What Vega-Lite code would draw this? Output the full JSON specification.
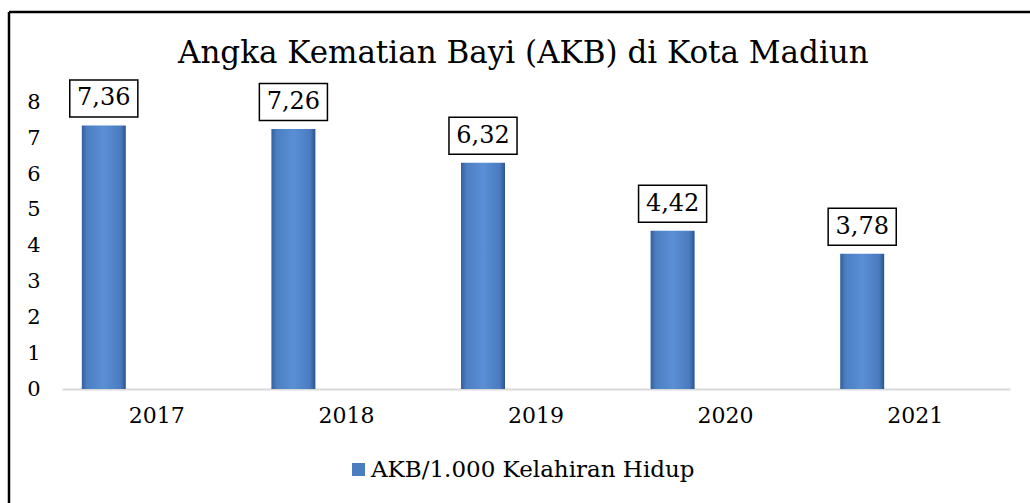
{
  "$schema": "https://vega.github.io/schema/vega-lite/v6.json",
  "width": 1021,
  "height": 491,
  "autosize": {"type": "none"},
  "padding": {"left": 9, "top": 12, "right": 0, "bottom": 0},
  "background": "white",
  "view": {"stroke": "black", "strokeWidth": 2.5, "strokeDash": [1021, 1512, 491, 0]},
  "title": {
    "text": "Angka Kematian Bayi (AKB) di Kota Madiun",
    "font": "DejaVu Serif",
    "fontSize": 31,
    "fontWeight": "normal",
    "color": "black",
    "anchor": "start",
    "frame": "group",
    "dx": 169,
    "offset": -58
  },
  "config": {
    "view": {"stroke": "black", "strokeWidth": 2.5, "strokeDash": [1021, 1512, 491, 0]},
    "locale": {"number": {"decimal": ",", "thousands": ".", "grouping": [3], "currency": ["", ""]}}
  },
  "data": {
    "values": [
      {"year": "2017", "value": 7.36, "series": "AKB/1.000 Kelahiran Hidup"},
      {"year": "2018", "value": 7.26, "series": "AKB/1.000 Kelahiran Hidup"},
      {"year": "2019", "value": 6.32, "series": "AKB/1.000 Kelahiran Hidup"},
      {"year": "2020", "value": 4.42, "series": "AKB/1.000 Kelahiran Hidup"},
      {"year": "2021", "value": 3.78, "series": "AKB/1.000 Kelahiran Hidup"}
    ]
  },
  "encoding": {
    "x": {
      "field": "year",
      "type": "nominal",
      "scale": {"range": [53, 1001], "paddingInner": 0, "paddingOuter": 0},
      "axis": {
        "title": null,
        "labelAngle": 0,
        "labelFont": "DejaVu Serif",
        "labelFontSize": 22,
        "labelColor": "black",
        "ticks": false,
        "tickSize": 0,
        "labelPadding": 16,
        "domainColor": "#D9D9D9",
        "domainWidth": 2,
        "offset": -114,
        "grid": false
      }
    },
    "y": {
      "field": "value",
      "type": "quantitative",
      "scale": {"domain": [0, 8], "range": [377, 90.5], "nice": false},
      "axis": {
        "title": null,
        "values": [0, 1, 2, 3, 4, 5, 6, 7, 8],
        "labelFont": "DejaVu Serif",
        "labelFontSize": 21,
        "labelColor": "black",
        "ticks": false,
        "tickSize": 0,
        "domain": false,
        "grid": false,
        "labelPadding": 2,
        "offset": -33
      }
    }
  },
  "layer": [
    {
      "mark": {"type": "bar", "width": 44, "xOffset": -53, "opacity": 0},
      "encoding": {
        "color": {
          "field": "series",
          "type": "nominal",
          "scale": {"domain": ["AKB/1.000 Kelahiran Hidup"], "range": ["#4A7DC0"]},
          "legend": {
            "orient": "none",
            "legendX": 338,
            "legendY": 446,
            "title": null,
            "padding": 0,
            "symbolType": "square",
            "symbolSize": 169,
            "symbolOpacity": 1,
            "symbolStrokeWidth": 0,
            "labelFont": "DejaVu Serif",
            "labelFontSize": 23,
            "labelColor": "black",
            "labelOffset": 1,
            "labelLimit": 600
          }
        }
      }
    },
    {
      "mark": {
        "type": "bar",
        "width": 44,
        "xOffset": -53,
        "color": {
          "gradient": "linear",
          "x1": 0, "y1": 0, "x2": 1, "y2": 0,
          "stops": [
            {"offset": 0, "color": "#33609E"},
            {"offset": 0.12, "color": "#4C7EC2"},
            {"offset": 0.5, "color": "#5A8FD6"},
            {"offset": 0.88, "color": "#4A7BBE"},
            {"offset": 1, "color": "#2B5590"}
          ]
        }
      }
    },
    {
      "mark": {
        "type": "point",
        "shape": "M-1.84,-1H1.84V1H-1.84Z",
        "size": 1369,
        "filled": false,
        "stroke": "black",
        "strokeWidth": 1.5,
        "opacity": 1,
        "xOffset": -53,
        "yOffset": -27
      }
    },
    {
      "mark": {
        "type": "text",
        "font": "DejaVu Serif",
        "fontSize": 24,
        "color": "black",
        "baseline": "middle",
        "align": "center",
        "xOffset": -53,
        "yOffset": -27
      },
      "encoding": {
        "text": {"field": "value", "type": "quantitative", "format": ".2f"}
      }
    }
  ]
}
